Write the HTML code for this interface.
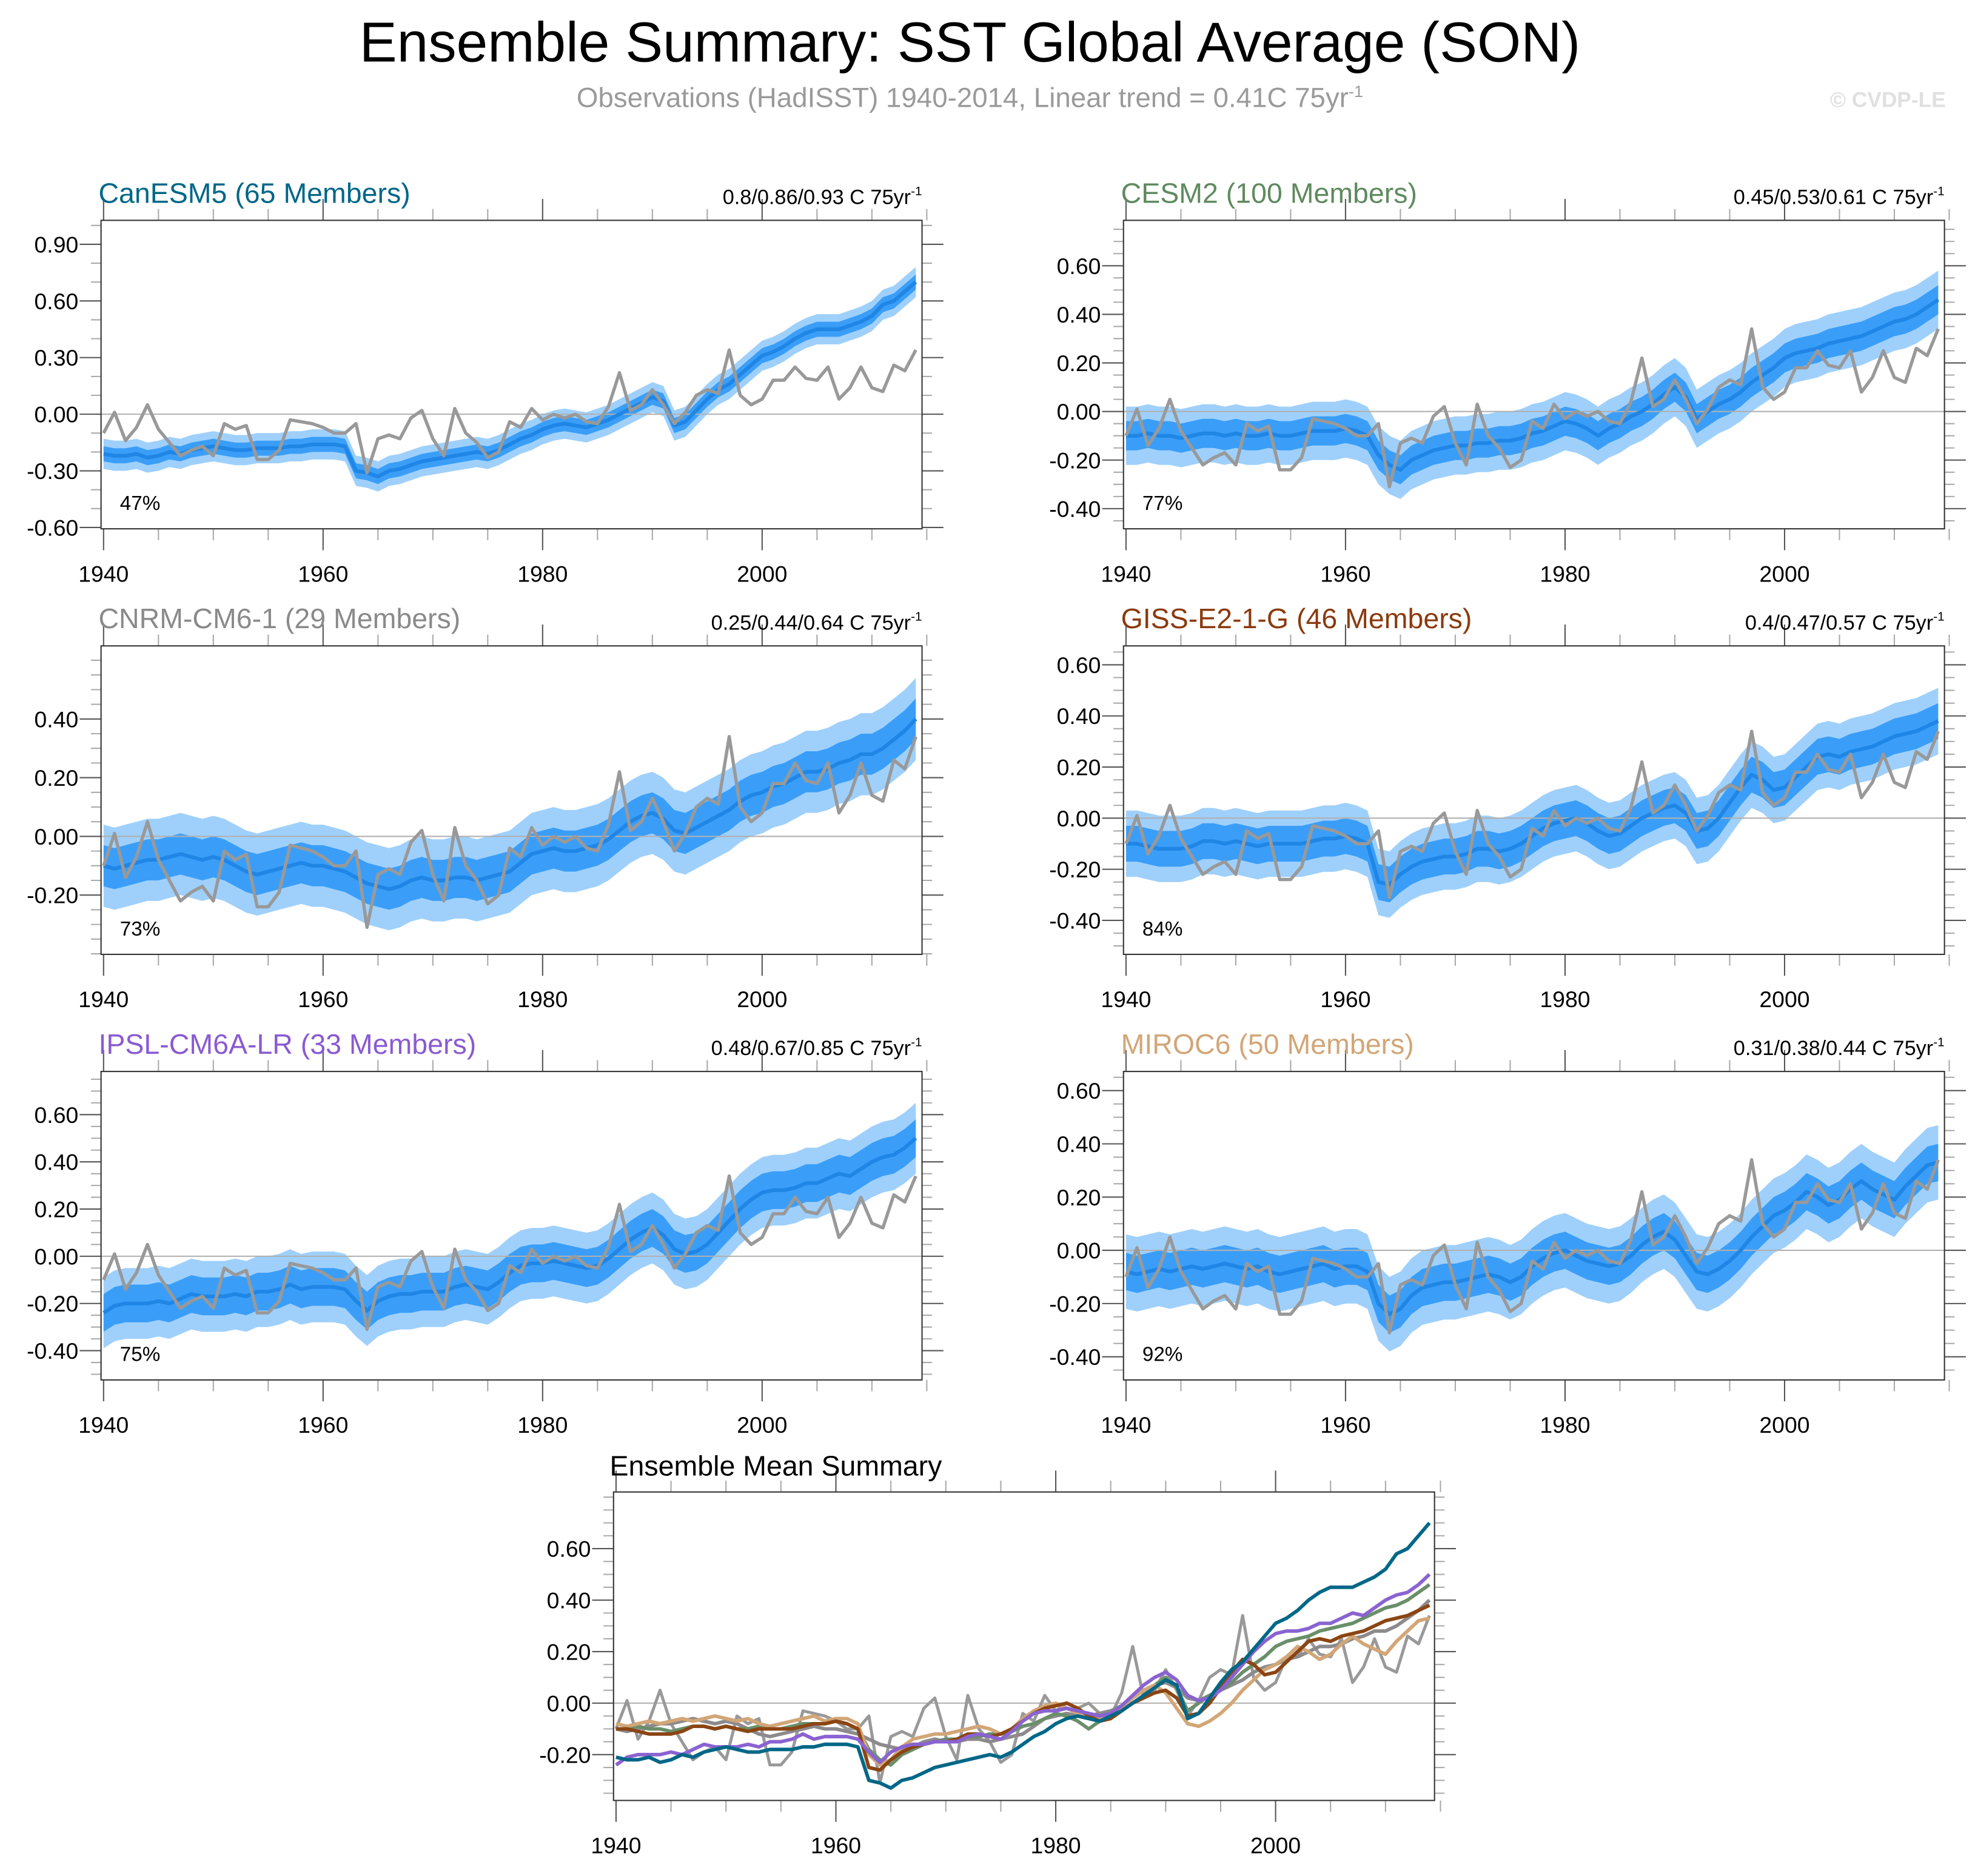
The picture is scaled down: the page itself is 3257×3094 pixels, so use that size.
<!DOCTYPE html>
<html><head><meta charset="utf-8">
<style>
html,body{margin:0;padding:0;background:#fff;}
svg{display:block;font-family:"Liberation Sans",sans-serif;}
</style></head>
<body>
<svg id="fig" width="3257" height="3094" viewBox="0 0 1568 1490" xmlns="http://www.w3.org/2000/svg">
<text x="770" y="49" text-anchor="middle" font-size="44.7" fill="#000">Ensemble Summary: SST Global Average (SON)</text>
<text x="770" y="85" text-anchor="middle" font-size="22" fill="#9a9a9a">Observations (HadISST) 1940-2014, Linear trend = 0.41C 75yr<tspan dy="-8" font-size="13">-1</tspan></text>
<text x="1545" y="85" text-anchor="end" font-size="17" font-weight="bold" fill="#e0e0e0">© CVDP-LE</text>
</svg>
<script>
const startYear = 1940;
const obs = [-0.10,0.01,-0.14,-0.07,0.05,-0.08,-0.15,-0.22,-0.19,-0.17,
-0.22,-0.05,-0.08,-0.06,-0.24,-0.24,-0.19,-0.03,-0.04,-0.05,
-0.07,-0.10,-0.10,-0.05,-0.31,-0.13,-0.11,-0.13,-0.02,0.02,
-0.13,-0.22,0.03,-0.10,-0.15,-0.23,-0.20,-0.04,-0.07,0.03,
-0.03,0.00,-0.02,0.00,-0.04,-0.05,0.04,0.22,0.02,0.05,
0.13,0.05,-0.05,0.01,0.10,0.13,0.11,0.34,0.10,0.05,
0.08,0.18,0.18,0.25,0.19,0.18,0.25,0.08,0.14,0.25,
0.14,0.12,0.26,0.23,0.34];
const canesm5 = [-0.21,-0.22,-0.22,-0.21,-0.23,-0.22,-0.20,-0.21,-0.19,-0.18,
-0.17,-0.18,-0.19,-0.19,-0.18,-0.18,-0.18,-0.17,-0.17,-0.16,
-0.16,-0.16,-0.17,-0.30,-0.31,-0.33,-0.30,-0.29,-0.27,-0.25,
-0.24,-0.23,-0.22,-0.21,-0.20,-0.21,-0.19,-0.16,-0.13,-0.11,
-0.08,-0.06,-0.05,-0.06,-0.07,-0.05,-0.03,0.00,0.03,0.06,
0.09,0.07,-0.06,-0.04,0.02,0.08,0.13,0.16,0.21,0.26,
0.31,0.33,0.36,0.40,0.43,0.45,0.45,0.45,0.47,0.49,
0.52,0.58,0.60,0.65,0.70];
const cesm2 = [-0.10,-0.10,-0.09,-0.10,-0.10,-0.11,-0.10,-0.09,-0.09,-0.10,
-0.09,-0.10,-0.10,-0.09,-0.10,-0.10,-0.09,-0.08,-0.08,-0.08,
-0.07,-0.08,-0.10,-0.18,-0.22,-0.24,-0.20,-0.18,-0.16,-0.15,
-0.14,-0.14,-0.13,-0.13,-0.12,-0.12,-0.11,-0.09,-0.08,-0.06,
-0.04,-0.05,-0.07,-0.10,-0.07,-0.05,-0.02,0.00,0.03,0.07,
0.10,0.06,-0.03,0.00,0.03,0.05,0.08,0.12,0.15,0.18,
0.22,0.24,0.25,0.26,0.28,0.29,0.30,0.31,0.33,0.35,
0.37,0.38,0.40,0.43,0.46];
const cnrm = [-0.10,-0.11,-0.10,-0.09,-0.08,-0.08,-0.07,-0.06,-0.07,-0.08,
-0.07,-0.08,-0.10,-0.12,-0.13,-0.12,-0.11,-0.10,-0.09,-0.10,
-0.10,-0.11,-0.12,-0.14,-0.16,-0.17,-0.18,-0.17,-0.15,-0.14,
-0.15,-0.15,-0.14,-0.14,-0.15,-0.14,-0.13,-0.12,-0.09,-0.06,
-0.05,-0.04,-0.05,-0.05,-0.04,-0.03,-0.01,0.02,0.05,0.07,
0.08,0.06,0.02,0.01,0.03,0.05,0.07,0.09,0.12,0.14,
0.15,0.17,0.18,0.20,0.22,0.22,0.23,0.25,0.26,0.28,
0.28,0.30,0.33,0.36,0.40];
const giss = [-0.10,-0.10,-0.11,-0.12,-0.12,-0.12,-0.11,-0.09,-0.09,-0.10,
-0.09,-0.10,-0.11,-0.10,-0.10,-0.10,-0.10,-0.09,-0.08,-0.08,
-0.07,-0.08,-0.10,-0.25,-0.26,-0.22,-0.19,-0.17,-0.16,-0.15,
-0.15,-0.14,-0.12,-0.12,-0.13,-0.12,-0.10,-0.07,-0.04,-0.02,
-0.01,0.00,-0.02,-0.05,-0.07,-0.06,-0.03,0.00,0.02,0.04,
0.05,0.02,-0.05,-0.04,0.00,0.06,0.12,0.17,0.15,0.11,
0.12,0.16,0.20,0.24,0.25,0.24,0.26,0.27,0.28,0.30,
0.32,0.33,0.34,0.36,0.38];
const ipsl = [-0.24,-0.21,-0.20,-0.20,-0.20,-0.19,-0.20,-0.18,-0.16,-0.17,
-0.17,-0.17,-0.16,-0.17,-0.15,-0.15,-0.14,-0.12,-0.14,-0.13,
-0.13,-0.13,-0.14,-0.19,-0.23,-0.19,-0.17,-0.16,-0.16,-0.15,
-0.15,-0.15,-0.13,-0.12,-0.13,-0.14,-0.11,-0.07,-0.04,-0.03,
-0.03,-0.02,-0.03,-0.04,-0.05,-0.04,-0.01,0.03,0.07,0.10,
0.12,0.09,0.03,0.01,0.02,0.05,0.10,0.15,0.20,0.24,
0.27,0.28,0.28,0.29,0.31,0.31,0.33,0.35,0.34,0.37,
0.40,0.42,0.43,0.46,0.50];
const miroc6 = [-0.08,-0.09,-0.08,-0.07,-0.08,-0.07,-0.06,-0.07,-0.06,-0.05,
-0.06,-0.07,-0.06,-0.08,-0.09,-0.08,-0.07,-0.06,-0.05,-0.07,
-0.06,-0.06,-0.08,-0.20,-0.24,-0.22,-0.17,-0.14,-0.13,-0.12,
-0.12,-0.11,-0.10,-0.09,-0.10,-0.12,-0.10,-0.06,-0.03,-0.01,
0.00,-0.02,-0.04,-0.05,-0.06,-0.05,-0.02,0.02,0.05,0.07,
0.04,-0.02,-0.08,-0.09,-0.07,-0.04,0.00,0.05,0.09,0.13,
0.15,0.18,0.22,0.20,0.17,0.19,0.23,0.26,0.23,0.21,
0.19,0.24,0.28,0.32,0.33];
const modelNames = ["CanESM5 (65 Members)","CESM2 (100 Members)","CNRM-CM6-1 (29 Members)","GISS-E2-1-G (46 Members)","IPSL-CM6A-LR (33 Members)","MIROC6 (50 Members)"];
const trendLabels = ["0.8/0.86/0.93 C 75yr","0.45/0.53/0.61 C 75yr","0.25/0.44/0.64 C 75yr","0.4/0.47/0.57 C 75yr","0.48/0.67/0.85 C 75yr","0.31/0.38/0.44 C 75yr"];
const pctLabels = ["47%","77%","73%","84%","75%","92%"];
const innerSpread = [0.04,0.06,0.07,0.07,0.08,0.07];
const outerSpread = [0.08,0.12,0.14,0.13,0.15,0.14];
const yTicks1 = [-0.6,-0.3,0,0.3,0.6,0.9];
const yTicks2 = [-0.4,-0.2,0,0.2,0.4,0.6];
const yTicksCnrm = [-0.2,0,0.2,0.4];
const xTicks = [1940,1960,1980,2000];

const meansList = [canesm5,cesm2,cnrm,giss,ipsl,miroc6];
const colors = ["#006787","#5f8a5f","#8a8a8a","#8b3a0e","#8a5ad2","#d2a677"];
const lineColors = ["#006787","#6a8f6a","#8c8a8c","#8b4513","#8a63d2","#d2a677"];
const layouts = [
 {x0:80,y0:175,vmin:-0.607,vmax:1.027,ticks:yTicks1,minor:0.1},
 {x0:892,y0:175,vmin:-0.483,vmax:0.787,ticks:yTicks2,minor:0.05},
 {x0:80,y0:513,vmin:-0.402,vmax:0.649,ticks:yTicksCnrm,minor:0.05},
 {x0:892,y0:513,vmin:-0.533,vmax:0.674,ticks:yTicks2,minor:0.05},
 {x0:80,y0:851,vmin:-0.524,vmax:0.783,ticks:yTicks2,minor:0.05},
 {x0:892,y0:851,vmin:-0.487,vmax:0.672,ticks:yTicks2,minor:0.05}
];
const W=652,H=245;
const svg=document.getElementById('fig');
const NS='http://www.w3.org/2000/svg';
function mk(tag,attrs,parent){const e=document.createElementNS(NS,tag);for(const k in attrs)e.setAttribute(k,attrs[k]);(parent||svg).appendChild(e);return e;}

function drawAxes(g,x0,y0,vmin,vmax,ticks,minor,xs,ys){
  const x1=x0+W,y1=y0+H;
  const z=mk('line',{x1:x0,x2:x1,y1:ys(0),y2:ys(0),stroke:'#b0b0b0','stroke-width':1},g);
  
  
  for(let yr=1940;yr<=2015;yr+=5){
    const X=xs(yr),maj=(yr%20===0),L=maj?17:9;
    mk('line',{x1:X,x2:X,y1:y1,y2:y1+L,stroke:maj?'#555':'#aaa','stroke-width':1},g);
    mk('line',{x1:X,x2:X,y1:y0,y2:y0-L,stroke:maj?'#555':'#aaa','stroke-width':1},g);
  }
  xTicks.forEach(yr=>{
    const t=mk('text',{x:xs(yr),y:y1+42,'text-anchor':'middle','font-size':18,fill:'#000'},g);
    t.textContent=yr;
    
    
  });
  const step=minor;
  for(let v=Math.ceil(vmin/step)*step;v<=vmax+1e-9;v+=step){
    const Y=ys(v);const maj=ticks.some(t=>Math.abs(t-v)<1e-6);const L=maj?17:8;
    mk('line',{x1:x0,x2:x0-L,y1:Y,y2:Y,stroke:maj?'#555':'#aaa','stroke-width':1},g);
    mk('line',{x1:x1,x2:x1+L,y1:Y,y2:Y,stroke:maj?'#555':'#aaa','stroke-width':1},g);
  }
  ticks.forEach(v=>{
    const t=mk('text',{x:x0-18,y:ys(v)+6.5,'text-anchor':'end','font-size':18,fill:'#000'},g);
    t.textContent=v.toFixed(2);
    
    
  });
  const b=mk('rect',{x:x0,y:y0,width:W,height:H,fill:'none',stroke:'#333','stroke-width':1},g);
  
  
}
function pathFrom(arr,xs,ys){return arr.map((v,i)=>(i?'L':'M')+xs(startYear+i).toFixed(2)+','+ys(v).toFixed(2)).join('');}
function bandPath(arr,w,xs,ys){
  let d=arr.map((v,i)=>(i?'L':'M')+xs(startYear+i).toFixed(2)+','+ys(v+w).toFixed(2)).join('');
  for(let i=arr.length-1;i>=0;i--)d+='L'+xs(startYear+i).toFixed(2)+','+ys(arr[i]-w).toFixed(2);
  return d+'Z';
}

layouts.forEach((L,k)=>{
  const g=mk('g',{});
  
  
  const xs=yr=>L.x0+2+(yr-1940)*8.717;
  const ys=v=>L.y0+(L.vmax-v)/(L.vmax-L.vmin)*H;
  const m=meansList[k];
  const outer=mk('path',{d:bandPath(m,outerSpread[k],xs,ys),fill:'#9fd0fc'},g);
  
  
  const inner=mk('path',{d:bandPath(m,innerSpread[k],xs,ys),fill:'#3a9ef8'},g);
  
  
  drawAxes(g,L.x0,L.y0,L.vmin,L.vmax,L.ticks,L.minor,xs,ys);
  const ml=mk('path',{d:pathFrom(m,xs,ys),fill:'none',stroke:'#1f86e6','stroke-width':3,'stroke-linejoin':'round'},g);
  
  
  const ol=mk('path',{d:pathFrom(obs,xs,ys),fill:'none',stroke:'#999','stroke-width':2.6,'stroke-linejoin':'round'},g);
  
  
  const tt=mk('text',{x:L.x0-2,y:L.y0-14,'font-size':22.4,fill:colors[k]},g);
  tt.textContent=modelNames[k];
  
  
  const tr=mk('text',{x:L.x0+W,y:L.y0-13,'text-anchor':'end','font-size':16.5,fill:'#000'},g);
  tr.textContent=trendLabels[k];
  const sup=mk('tspan',{dy:-7,'font-size':10},tr);sup.textContent='-1';
  
  
  const pc=mk('text',{x:L.x0+15,y:L.y0+H-15,'font-size':16,fill:'#000'},g);
  pc.textContent=pctLabels[k];
  
  
});

(function(){
  const x0=487,y0=1185,vmin=-0.378,vmax=0.82;
  const g=mk('g',{});
  
  
  const xs=yr=>x0+2+(yr-1940)*8.73;
  const ys=v=>y0+(vmax-v)/(vmax-vmin)*H;
  drawAxes(g,x0,y0,vmin,vmax,[-0.2,0,0.2,0.4,0.6],0.05,xs,ys);
  const ol=mk('path',{d:pathFrom(obs,xs,ys),fill:'none',stroke:'#999','stroke-width':2.4,'stroke-linejoin':'round'},g);
  
  
  [2,1,5,3,4,0].forEach(k=>{
    const p=mk('path',{d:pathFrom(meansList[k],xs,ys),fill:'none',stroke:lineColors[k],'stroke-width':2.8,'stroke-linejoin':'round'},g);
    
    
  });
  const t=mk('text',{x:484,y:1172,'font-size':22.4,fill:'#000'},g);
  t.textContent='Ensemble Mean Summary';
  
  
})();
</script>
</body></html>
